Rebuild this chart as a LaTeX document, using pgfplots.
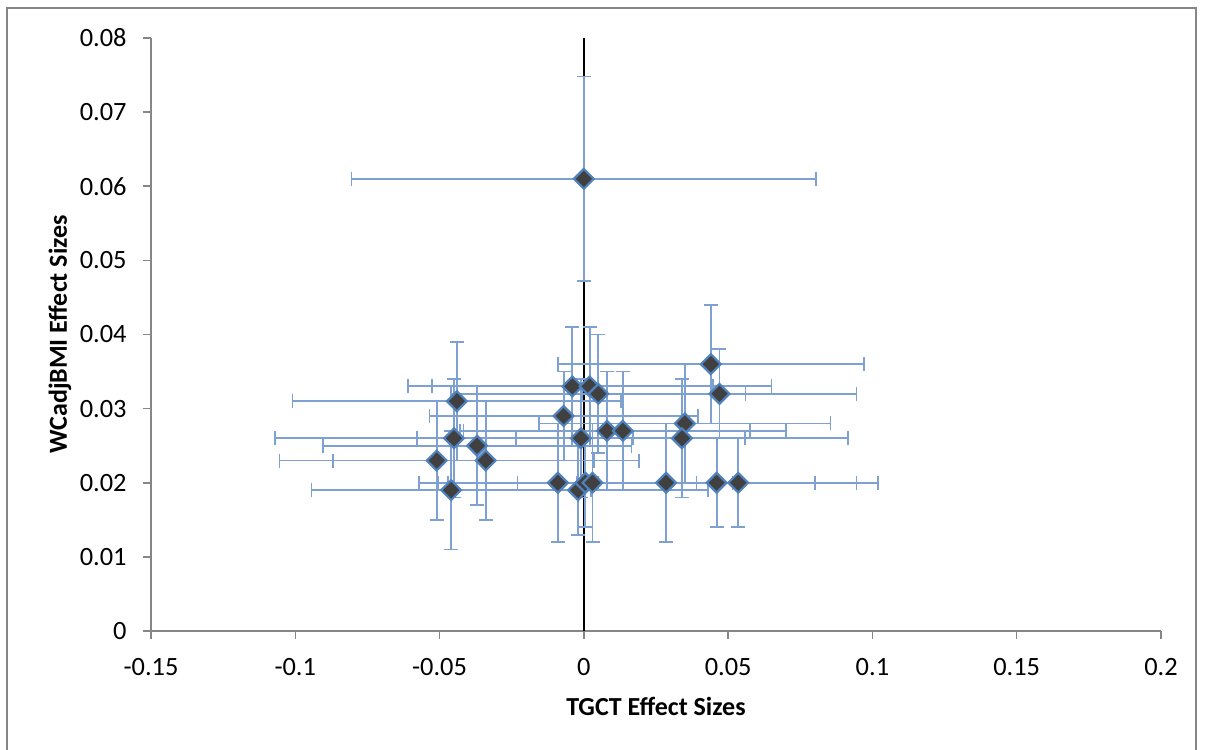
\documentclass[border=0pt]{standalone}
\usepackage{fontspec}
\setmainfont{Carlito}
\usepackage{pgfplots}
\usepackage{pgfplotstable}
\pgfplotsset{compat=1.18}

\definecolor{axisgray}{RGB}{134,134,134}
\definecolor{barblue}{RGB}{126,161,209}
\definecolor{markblue}{RGB}{79,129,189}
\definecolor{markfill}{RGB}{64,64,64}

% TGCT (x) vs WCadjBMI (y) effect sizes with error half-widths
\pgfplotstableread{
x       y      ex      ey
0.000   0.061  0.0805  0.0138
-0.044  0.031  0.057   0.008
-0.045  0.026  0.062   0.008
-0.051  0.023  0.0545  0.008
-0.046  0.019  0.0484  0.008
-0.037  0.025  0.0535  0.008
-0.034  0.023  0.053   0.008
-0.004  0.033  0.0487  0.008
0.002   0.033  0.063   0.008
0.005   0.032  0.051   0.008
-0.007  0.029  0.0465  0.006
-0.001  0.026  0.0567  0.008
0.008   0.027  0.0497  0.008
0.0135  0.027  0.0565  0.008
-0.009  0.020  0.048   0.008
-0.002  0.019  0.045   0.006
0.0005  0.020  0.051   0.006
0.003   0.020  0.050   0.008
0.0285  0.020  0.0515  0.008
0.044   0.036  0.053   0.008
0.047   0.032  0.0475  0.006
0.035   0.028  0.0505  0.008
0.034   0.026  0.0575  0.008
0.046   0.020  0.0485  0.006
0.0535  0.020  0.0485  0.006
}\effects

\begin{document}
\begin{tikzpicture}
\useasboundingbox (-75.5pt,-59pt) rectangle (528.5pt,315.5pt);
\draw[axisgray, line width=1pt] (-72pt,-60pt) -- (-72pt,311.5pt) -- (522.5pt,311.5pt) -- (522.5pt,-60pt);
\begin{axis}[
    scale only axis,
    width=505pt, height=296.5pt,
    xmin=-0.15, xmax=0.2, ymin=0, ymax=0.08,
    axis x line*=bottom, axis y line*=left,
    axis line style={-, draw=axisgray, line width=0.75pt},
    xtick={-0.15,-0.1,-0.05,0,0.05,0.1,0.15,0.2},
    ytick={0,0.01,0.02,0.03,0.04,0.05,0.06,0.07,0.08},
    tick align=outside,
    major tick length=4pt,
    tick style={draw=axisgray, line width=0.75pt},
    scaled ticks=false,
    /pgf/number format/.cd, fixed, precision=3, assume math mode=true,
    /pgfplots/.cd,
    tick label style={font=\fontsize{13.2}{15}\selectfont},
    xticklabel style={anchor=north, inner sep=0pt, yshift=-9.5pt},
    yticklabel style={anchor=east, inner sep=0pt, xshift=-8pt},
    xlabel={TGCT Effect Sizes},
    ylabel={WCadjBMI Effect Sizes},
    every axis x label/.style={at={([yshift=-42pt]axis description cs:0.5,0)}, anchor=base,
        font=\fontsize{13}{15}\selectfont\bfseries},
    every axis y label/.style={at={([xshift=-45.5pt]axis description cs:0,0.5)}, rotate=90, anchor=center,
        font=\fontsize{13}{15}\selectfont\bfseries},
    clip=false,
]
\addplot[black, line width=0.75pt, forget plot] coordinates {(0,0) (0,0.08)};
\addplot[only marks, mark=square*, mark size=3.5pt,
    mark options={rotate=45, fill=markfill, draw=markblue, line width=1.1pt},
    error bars/.cd,
        x dir=both, x explicit, y dir=both, y explicit,
        error bar style={barblue, line width=0.9pt},
        error mark options={barblue, line width=0.9pt, mark size=3.5pt, rotate=90}]
    table[x=x, y=y, x error=ex, y error=ey] {\effects};
\end{axis}
\end{tikzpicture}
\end{document}
